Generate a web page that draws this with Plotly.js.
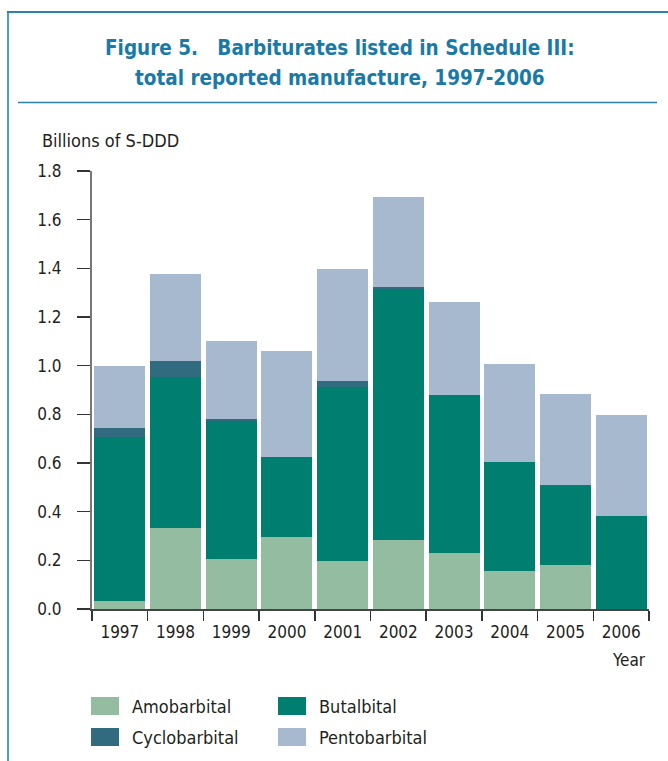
<!DOCTYPE html>
<html>
<head>
<meta charset="utf-8">
<script src="https://cdn.plot.ly/plotly-3.0.1.min.js"></script>
<style>html,body{margin:0;padding:0;background:#fff;}#chart{width:668px;height:761px;}</style>
</head>
<body>
<div id="chart"></div>
<script>
// ---- data (billions of S-DDD) ----
var years = ['1997','1998','1999','2000','2001','2002','2003','2004','2005','2006'];
var amobarbital   = [0.034, 0.334, 0.204, 0.297, 0.198, 0.285, 0.231, 0.157, 0.182, 0.000];
var butalbital    = [0.674, 0.621, 0.569, 0.329, 0.716, 1.029, 0.650, 0.446, 0.323, 0.383];
var cyclobarbital = [0.034, 0.065, 0.006, 0.000, 0.024, 0.011, 0.000, 0.003, 0.003, 0.000];
var pentobarbital = [0.258, 0.358, 0.324, 0.436, 0.461, 0.370, 0.382, 0.401, 0.376, 0.416];
var seriesNames  = ['Amobarbital', 'Butalbital', 'Cyclobarbital', 'Pentobarbital'];
var yTickVals = [0, 0.2, 0.4, 0.6, 0.8, 1.0, 1.2, 1.4, 1.6, 1.8];
var titleLines = ['Figure 5.   Barbiturates listed in Schedule III:', 'total reported manufacture, 1997-2006'];

var colors = {Amobarbital:'#93bca0', Butalbital:'#007e6f', Cyclobarbital:'#306b80', Pentobarbital:'#a6b9ce'};
var FONT = '"DejaVu Sans Condensed", "Liberation Sans Narrow", "Arial Narrow", sans-serif';
var TXT = '#231f20';

var W = 668, H = 761, ML = 92, MR = 19, MT = 171, MB = 152;
var PW = W - ML - MR, PH = H - MT - MB;
function px(x){ return (x - ML) / PW; }
function py(y){ return (H - MB - y) / PH; }

var dataBy = {Amobarbital:amobarbital, Butalbital:butalbital, Cyclobarbital:cyclobarbital, Pentobarbital:pentobarbital};
var traces = seriesNames.map(function(n){
  return {type:'bar', name:n, x:years, y:dataBy[n], marker:{color:colors[n], line:{width:0}}, showlegend:false, hoverinfo:'x+y+name'};
});

var shapes = [
  // frame
  {type:'line', xref:'paper', yref:'paper', x0:px(8), x1:px(8), y0:py(11), y1:py(761), line:{color:'#4aa0c3', width:2}},
  {type:'line', xref:'paper', yref:'paper', x0:px(7), x1:px(668), y0:py(12), y1:py(12), line:{color:'#2a82b2', width:2}},
  {type:'line', xref:'paper', yref:'paper', x0:px(18), x1:px(657), y0:py(102.5), y1:py(102.5), line:{color:'#2a80ae', width:1.5}}
];
var annotations = [
  {xref:'paper', yref:'paper', x:px(340), y:py(48), xanchor:'center', yanchor:'middle', text:'<b>' + titleLines[0] + '</b>', showarrow:false, font:{family:FONT, size:20.5, color:'#1a7aa6'}},
  {xref:'paper', yref:'paper', x:px(340), y:py(78), xanchor:'center', yanchor:'middle', text:'<b>' + titleLines[1] + '</b>', showarrow:false, font:{family:FONT, size:20.5, color:'#1a7aa6'}},
  {xref:'paper', yref:'paper', x:px(40), y:py(140), xanchor:'left', yanchor:'middle', text:'Billions of S-DDD', showarrow:false, font:{family:FONT, size:18, color:TXT}},
  {xref:'paper', yref:'paper', x:px(648), y:py(660), xanchor:'right', yanchor:'middle', text:'Year', showarrow:false, font:{family:FONT, size:17, color:TXT}}
];
// manual legend
var legPos = [[91, 706], [278, 706], [91, 737], [278, 737]];
var legOrder = ['Amobarbital', 'Butalbital', 'Cyclobarbital', 'Pentobarbital'];
legOrder.forEach(function(n, i){
  var p = legPos[i];
  shapes.push({type:'rect', xref:'paper', yref:'paper', x0:px(p[0]), x1:px(p[0]+28), y0:py(p[1]-9), y1:py(p[1]+9), fillcolor:colors[n], line:{width:0}});
  annotations.push({xref:'paper', yref:'paper', x:px(p[0]+39), y:py(p[1]), xanchor:'left', yanchor:'middle', text:n, showarrow:false, font:{family:FONT, size:18, color:TXT}});
});

var layout = {
  width:W, height:H,
  margin:{l:ML, r:MR, t:MT, b:MB, pad:0},
  paper_bgcolor:'#fff', plot_bgcolor:'#fff',
  barmode:'stack', bargap:0.084,
  font:{family:FONT, color:TXT},
  xaxis:{type:'category', tickson:'boundaries', ticks:'outside', ticklen:10, tickwidth:1.5, tickcolor:'#333',
         showline:true, linecolor:'#444', linewidth:2, showgrid:false, zeroline:false,
         tickfont:{family:FONT, size:17, color:TXT}, ticklabelstandoff:7, fixedrange:true},
  yaxis:{range:[0,1.8], tickvals:yTickVals, tickformat:'.1f', ticks:'outside', ticklen:13, tickwidth:1.5, tickcolor:'#333',
         showline:true, linecolor:'#777', linewidth:2, showgrid:false, zeroline:false,
         tickfont:{family:FONT, size:17, color:TXT}, ticklabelstandoff:12, fixedrange:true},
  shapes:shapes, annotations:annotations
};
Plotly.newPlot('chart', traces, layout, {displayModeBar:false, staticPlot:true});
</script>
</body>
</html>
